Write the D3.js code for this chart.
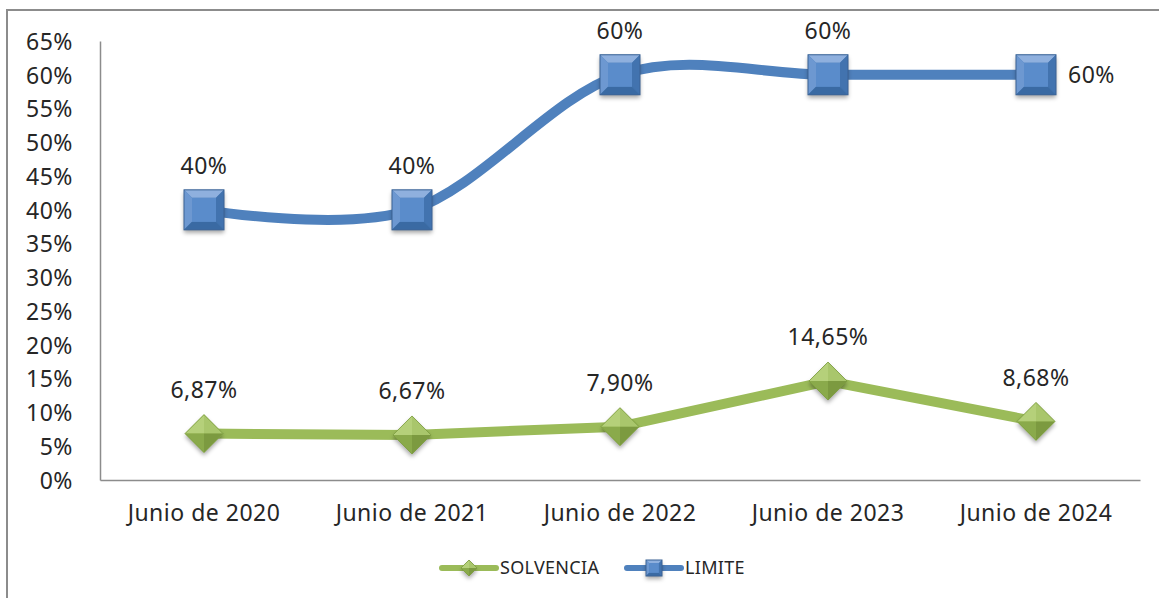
<!DOCTYPE html>
<html>
<head>
<meta charset="utf-8">
<script src="https://cdn.jsdelivr.net/npm/d3@7"></script>
<style>
  html, body { margin: 0; padding: 0; background: #fff; }
  #main-frame { width: 1159px; height: 598px; }
  text { font-family: "Noto Sans", "Open Sans", sans-serif; fill: #262626; }
</style>
</head>
<body>
<div id="main-frame"></div>
<script>
// Chart data
const categories = [
  "Junio de 2020",
  "Junio de 2021",
  "Junio de 2022",
  "Junio de 2023",
  "Junio de 2024",
];
const solvencia = [0.0687, 0.0667, 0.079, 0.1465, 0.0868];
const limite = [0.4, 0.4, 0.6, 0.6, 0.6];
const yTicks = [0, 0.05, 0.1, 0.15, 0.2, 0.25, 0.3, 0.35, 0.4, 0.45, 0.5, 0.55, 0.6, 0.65];

const W = 1159;
const H = 598;
const plot = { left: 100, right: 1140, top: 41, bottom: 480 };

const locale = d3.formatLocale({ decimal: ",", thousands: ".", grouping: [3], currency: ["", ""] });
const fmtPct0 = locale.format(".0%");
const fmtPct2 = locale.format(".2%");

const svg = d3
  .select("#main-frame")
  .append("svg")
  .attr("width", W)
  .attr("height", H);

const defs = svg.append("defs");
const shadow = defs.append("filter").attr("id", "shadow")
  .attr("x", "-50%").attr("y", "-50%").attr("width", "200%").attr("height", "200%");
shadow.append("feDropShadow")
  .attr("dx", 0).attr("dy", 3).attr("stdDeviation", 2)
  .attr("flood-color", "#000").attr("flood-opacity", 0.35);

// outer chart border (only top/left visible in reference)
svg.append("path")
  .attr("d", `M7,${H} L7,10 L${W},10`)
  .attr("fill", "none")
  .attr("stroke", "#8c8c8c")
  .attr("stroke-width", 2);

// Scales
const xScale = d3.scaleBand()
  .domain(categories)
  .range([plot.left, plot.right]);

const yScale = d3.scaleLinear()
  .domain([0, 0.65])
  .range([plot.bottom, plot.top]);

const cx = (i) => xScale(categories[i]) + xScale.bandwidth() / 2;

// Axes
const yAxis = d3.axisLeft(yScale).tickValues(yTicks).tickFormat(fmtPct0).tickSize(0).tickPadding(27);
const xAxis = d3.axisBottom(xScale).tickSize(0).tickPadding(25);

const gy = svg.append("g").attr("transform", `translate(${plot.left},0)`).call(yAxis);
const gx = svg.append("g").attr("transform", `translate(0,${plot.bottom})`).call(xAxis);

[gx, gy].forEach((g) => {
  g.select(".domain").attr("stroke", "#8c8c8c").attr("stroke-width", 1.5);
  g.selectAll("text")
    .style("font-family", "'Noto Sans', sans-serif")
    .style("font-size", "23px")
    .style("letter-spacing", "0.5px")
    .attr("fill", "#262626");
});
gy.selectAll("text").attr("dy", "0.36em");

// Lines
const limiteLine = d3.line()
  .x((d, i) => cx(i))
  .y((d) => yScale(d))
  .curve(d3.curveCatmullRom.alpha(0));

const solvLine = d3.line()
  .x((d, i) => cx(i))
  .y((d) => yScale(d));

svg.append("path")
  .datum(solvencia)
  .attr("d", solvLine)
  .attr("fill", "none")
  .attr("stroke", "#9bbb59")
  .attr("stroke-width", 10)
  .attr("stroke-linejoin", "round");

svg.append("path")
  .datum(limite)
  .attr("d", limiteLine)
  .attr("fill", "none")
  .attr("stroke", "#4f81bd")
  .attr("stroke-width", 10)
  .attr("stroke-linecap", "round");

// Bevelled marker drawing helpers
function squareMarker(g, s) {
  const h = s / 2, b = s * 0.2;
  g.append("rect").attr("x", -h).attr("y", -h).attr("width", s).attr("height", s)
    .attr("fill", "#4f81bd").attr("filter", "url(#shadow)");
  g.append("path").attr("d", `M${-h},${-h} L${h},${-h} L${h - b},${-h + b} L${-h + b},${-h + b} Z`).attr("fill", "#8fb0de");
  g.append("path").attr("d", `M${-h},${-h} L${-h + b},${-h + b} L${-h + b},${h - b} L${-h},${h} Z`).attr("fill", "#6d98d1");
  g.append("path").attr("d", `M${h},${-h} L${h},${h} L${h - b},${h - b} L${h - b},${-h + b} Z`).attr("fill", "#4273af");
  g.append("path").attr("d", `M${-h},${h} L${h},${h} L${h - b},${h - b} L${-h + b},${h - b} Z`).attr("fill", "#3a6aa3");
  g.append("rect").attr("x", -h + b).attr("y", -h + b).attr("width", s - 2 * b).attr("height", s - 2 * b)
    .attr("fill", "#5a8ccb");
  g.append("rect").attr("x", -h).attr("y", -h).attr("width", s).attr("height", s)
    .attr("fill", "none").attr("stroke", "#3a6395").attr("stroke-width", 1);
}

function diamondMarker(g, s) {
  const h = s / 2;
  g.append("path").attr("d", `M0,${-h} L${h},0 L0,${h} L${-h},0 Z`)
    .attr("fill", "#9bbb59").attr("filter", "url(#shadow)");
  g.append("path").attr("d", `M0,${-h} L0,0 L${-h},0 Z`).attr("fill", "#b5d07a");
  g.append("path").attr("d", `M0,${-h} L${h},0 L0,0 Z`).attr("fill", "#a9c66c");
  g.append("path").attr("d", `M${-h},0 L0,0 L0,${h} Z`).attr("fill", "#8aaa4b");
  g.append("path").attr("d", `M${h},0 L0,0 L0,${h} Z`).attr("fill", "#7c9a40");
  g.append("path").attr("d", `M0,${-h} L${h},0 L0,${h} L${-h},0 Z`)
    .attr("fill", "none").attr("stroke", "#7a9a3e").attr("stroke-width", 0.8);
}

// Markers
solvencia.forEach((d, i) => {
  const g = svg.append("g").attr("transform", `translate(${cx(i)},${yScale(d)})`);
  diamondMarker(g, 38);
});
limite.forEach((d, i) => {
  const g = svg.append("g").attr("transform", `translate(${cx(i)},${yScale(d)})`);
  squareMarker(g, 40);
});

// Data labels
svg.selectAll(".lbl-solv")
  .data(solvencia)
  .enter()
  .append("text")
  .attr("class", "lbl-solv")
  .attr("x", (d, i) => cx(i))
  .attr("y", (d) => yScale(d) - 44)
  .attr("dy", "0.36em")
  .attr("text-anchor", "middle")
  .style("font-size", "23px")
  .style("letter-spacing", "0.5px")
  .text((d) => fmtPct2(d));

svg.selectAll(".lbl-lim")
  .data(limite)
  .enter()
  .append("text")
  .attr("class", "lbl-lim")
  .attr("x", (d, i) => (i === limite.length - 1 ? cx(i) + 32 : cx(i)))
  .attr("y", (d, i) => (i === limite.length - 1 ? yScale(d) : yScale(d) - 44))
  .attr("dy", "0.36em")
  .attr("text-anchor", (d, i) => (i === limite.length - 1 ? "start" : "middle"))
  .style("font-size", "23px")
  .style("letter-spacing", "0.5px")
  .text((d) => fmtPct0(d));

// Legend
const legendItems = [
  { name: "SOLVENCIA", color: "#9bbb59", marker: "diamond", x: 440 },
  { name: "LIMITE", color: "#4f81bd", marker: "square", x: 625 },
];
const legendY = 568;

legendItems.forEach((item) => {
  const g = svg.append("g").attr("transform", `translate(${item.x},${legendY})`);
  g.append("line")
    .attr("x1", 2).attr("x2", 56).attr("y1", 0).attr("y2", 0)
    .attr("stroke", item.color).attr("stroke-width", 6).attr("stroke-linecap", "round");
  const m = g.append("g").attr("transform", "translate(29,0)");
  if (item.marker === "diamond") diamondMarker(m, 16);
  else squareMarker(m, 16);
  g.append("text")
    .attr("x", 60)
    .attr("y", 0)
    .attr("dy", "0.36em")
    .style("font-size", "18px")
    .style("letter-spacing", "0.3px")
    .text(item.name);
});
</script>
</body>
</html>
